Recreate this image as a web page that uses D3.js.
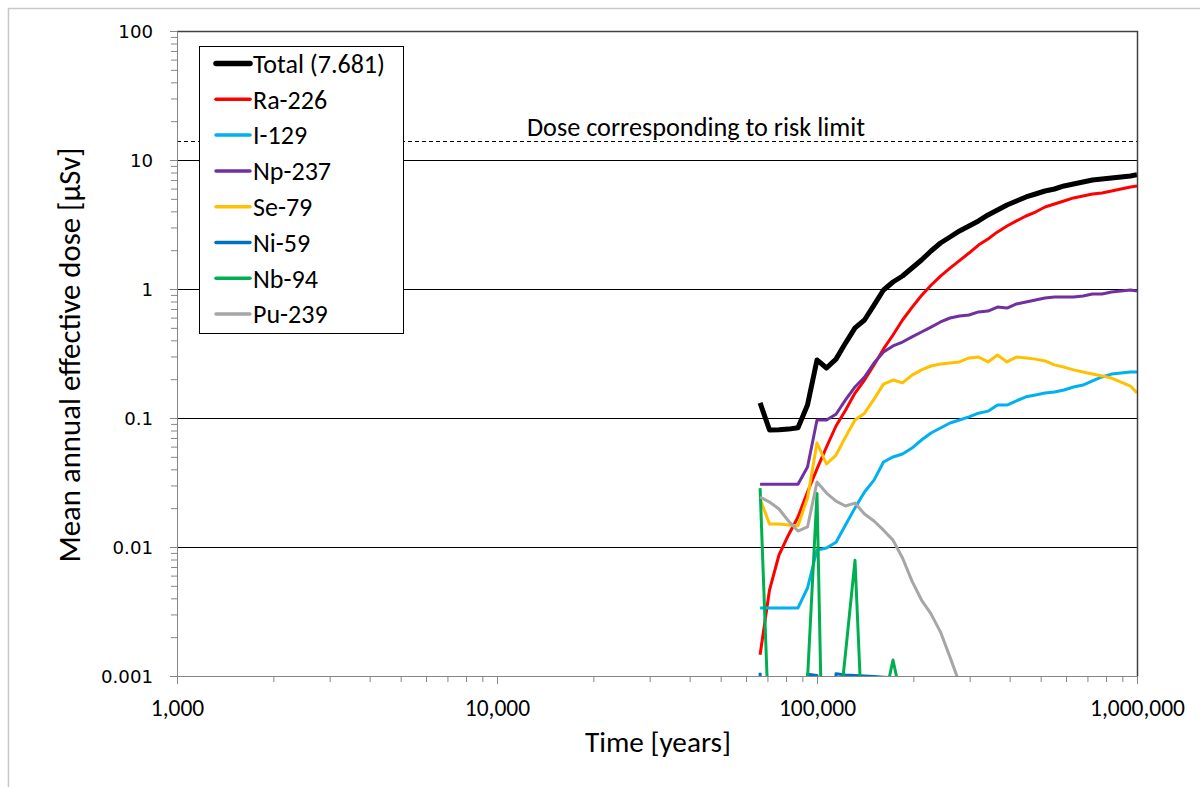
<!DOCTYPE html>
<html>
<head>
<meta charset="utf-8">
<script src="https://cdn.jsdelivr.net/npm/d3@7"></script>
<style>
  body { margin: 0; background: #fff; }
  svg { display: block; }
</style>
</head>
<body>
<svg id="chart" width="1200" height="787"></svg>
<script>
// ---------------- DATA ----------------
const times = [66400, 71050, 76070, 81450, 87210, 93400, 100000, 107080, 114660, 122770,
  131460, 140760, 150710, 161380, 172780, 185020, 198110, 212120, 227130, 243200,
  260400, 278820, 298540, 319660, 342270, 366480, 392410, 420170, 449890, 481720,
  515790, 552280, 591350, 633180, 677970, 725930, 777280, 832270, 891250, 954300, 1000000];

const seriesNames = ["Total (7.681)", "Ra-226", "I-129", "Np-237", "Se-79", "Ni-59", "Nb-94", "Pu-239"];

const total = [0.131, 0.0807, 0.081, 0.082, 0.084, 0.126, 0.282, 0.244, 0.286, 0.381,
  0.499, 0.575, 0.751, 0.982, 1.133, 1.261, 1.455, 1.679, 1.970, 2.273,
  2.53, 2.82, 3.08, 3.37, 3.75, 4.10, 4.48, 4.81, 5.17, 5.45,
  5.75, 5.96, 6.29, 6.51, 6.75, 7.00, 7.12, 7.25, 7.38, 7.52, 7.681];

const ra226 = [0.00146, 0.00464, 0.00867, 0.0124, 0.0171, 0.0267, 0.0403, 0.0596, 0.0867, 0.115,
  0.156, 0.197, 0.258, 0.343, 0.440, 0.575, 0.72, 0.89, 1.07, 1.26,
  1.45, 1.66, 1.90, 2.19, 2.44, 2.77, 3.08, 3.37, 3.68, 3.95,
  4.32, 4.56, 4.81, 5.08, 5.26, 5.45, 5.55, 5.75, 5.96, 6.18, 6.29];

const i129 = [0.00337, 0.00337, 0.00337, 0.00337, 0.00337, 0.00481, 0.00948, 0.00982, 0.0109, 0.0148,
  0.0201, 0.0267, 0.0330, 0.0456, 0.0499, 0.0526, 0.0585, 0.0675, 0.0765, 0.0837,
  0.0915, 0.0965, 0.102, 0.109, 0.113, 0.126, 0.126, 0.136, 0.146, 0.151,
  0.156, 0.159, 0.165, 0.174, 0.180, 0.194, 0.208, 0.219, 0.223, 0.227, 0.227];

const np237 = [0.0307, 0.0307, 0.0307, 0.0307, 0.0307, 0.0417, 0.0965, 0.0965, 0.107, 0.138,
  0.174, 0.208, 0.267, 0.325, 0.362, 0.388, 0.425, 0.464, 0.507, 0.555,
  0.596, 0.618, 0.629, 0.664, 0.675, 0.725, 0.712, 0.766, 0.793, 0.822,
  0.852, 0.867, 0.867, 0.867, 0.883, 0.915, 0.915, 0.948, 0.965, 0.982, 0.965];

const se79 = [0.0236, 0.0151, 0.0151, 0.0148, 0.0146, 0.0240, 0.064, 0.044, 0.0516, 0.0713,
  0.0965, 0.109, 0.140, 0.183, 0.197, 0.187, 0.215, 0.236, 0.253, 0.262,
  0.267, 0.272, 0.292, 0.297, 0.272, 0.308, 0.272, 0.297, 0.292, 0.286,
  0.277, 0.258, 0.248, 0.236, 0.227, 0.219, 0.212, 0.204, 0.190, 0.177, 0.156];

const ni59 = [0.00106, 1e-6, 1e-6, 1e-6, 1e-6, 0.00103, 0.00101, 1e-6, 0.00104, 0.00102,
  0.00101, 0.00100, 0.00099, 0.00098, 0.00097, 0.0009, null, null, null, null,
  null, null, null, null, null, null, null, null, null, null,
  null, null, null, null, null, null, null, null, null, null, null];

const nb94 = [0.0286, 0.0003, 1e-6, 1e-6, 1e-6, 0.00095, 0.026, 6e-6, 0.0003, 0.0015,
  0.0079, 0.000156, 1e-6, 0.0006, 0.00133, 0.0006, 1e-6, null, null, null,
  null, null, null, null, null, null, null, null, null, null,
  null, null, null, null, null, null, null, null, null, null, null];

const pu239 = [0.0244, 0.0223, 0.0197, 0.0159, 0.0133, 0.0143, 0.0319, 0.0262, 0.0227, 0.0208,
  0.0219, 0.0180, 0.0159, 0.0135, 0.0113, 0.00822, 0.00544, 0.00388, 0.00303, 0.00219,
  0.00140, 0.00088, 0.0002, null, null, null, null, null, null, null,
  null, null, null, null, null, null, null, null, null, null, null];

const riskLimitDose = 14;
const riskLimitLabel = "Dose corresponding to risk limit";

const xTickValues = [1000, 10000, 100000, 1000000];
const xTickLabels = ["1,000", "10,000", "100,000", "1,000,000"];
const yTickValues = [0.001, 0.01, 0.1, 1, 10, 100];
const yTickLabels = ["0.001", "0.01", "0.1", "1", "10", "100"];
const xTitle = "Time [years]";
const yTitle = "Mean annual effective dose [µSv]";

// ---------------- STYLE / LAYOUT ----------------
const allSeries = [total, ra226, i129, np237, se79, ni59, nb94, pu239];
const colors = ["#000000", "#FF0000", "#00B0F0", "#7030A0", "#FFC000", "#0070C0", "#00B050", "#A6A6A6"];
const widths = [5, 3, 3, 3, 3, 3, 3, 3];
const L = 177, R = 1137, T = 31, B = 676;
const textFont = "Carlito, Calibri, Lato, sans-serif";

const svg = d3.select("#chart");
const x = d3.scaleLog().domain([1000, 1e6]).range([L, R]);
const y = d3.scaleLog().domain([0.001, 100]).range([B, T]);

function fit(sel, target) {
  const w = sel.node().getComputedTextLength();
  const fs = parseFloat(sel.attr("font-size"));
  if (w > 0) sel.attr("font-size", (fs * target / w).toFixed(2));
  return parseFloat(sel.attr("font-size"));
}

// outer chart border
svg.append("rect").attr("x", 8.5).attr("y", 8.5).attr("width", 1400).attr("height", 1000)
  .attr("fill", "none").attr("stroke", "#C8C8C8").attr("stroke-width", 1.5);

// gridlines
svg.append("g").selectAll("line")
  .data(yTickValues.filter(v => v > 0.001 && v < 100))
  .join("line")
  .attr("x1", L).attr("x2", R)
  .attr("y1", d => Math.round(y(d)) + 0.5).attr("y2", d => Math.round(y(d)) + 0.5)
  .attr("stroke", "#000").attr("stroke-width", 1);

// risk limit line + label
svg.append("line").attr("x1", L).attr("x2", R)
  .attr("y1", Math.round(y(riskLimitDose)) + 0.5).attr("y2", Math.round(y(riskLimitDose)) + 0.5)
  .attr("stroke", "#000").attr("stroke-width", 1).attr("stroke-dasharray", "4,3");
const riskText = svg.append("text").attr("x", 696).attr("y", 136)
  .attr("text-anchor", "middle").attr("font-family", textFont).attr("font-size", 22)
  .attr("fill", "#000").text(riskLimitLabel);
fit(riskText, 338);

// series
svg.append("clipPath").attr("id", "plotClip").append("rect")
  .attr("x", L).attr("y", T).attr("width", R - L).attr("height", B - T);
const lineGen = d3.line()
  .defined(d => d != null)
  .x((d, j) => x(times[j]))
  .y(d => y(d));
const gSeries = svg.append("g").attr("clip-path", "url(#plotClip)");
allSeries.forEach((vals, i) => {
  gSeries.append("path")
    .attr("d", lineGen(vals))
    .attr("fill", "none")
    .attr("stroke", colors[i])
    .attr("stroke-width", widths[i])
    .attr("stroke-linejoin", "round")
    .attr("stroke-linecap", "butt");
});

// plot border (top and right)
svg.append("path")
  .attr("d", `M${L},${T + 0.5}H${R + 0.5}V${B}`)
  .attr("fill", "none").attr("stroke", "#404040").attr("stroke-width", 1.5);

// axes
const axisColor = "#868686";
const xMinor = [], yMinor = [];
[1000, 10000, 100000].forEach(d => { for (let m = 2; m <= 9; m++) xMinor.push(d * m); });
[0.001, 0.01, 0.1, 1, 10].forEach(d => { for (let m = 2; m <= 9; m++) yMinor.push(+(d * m).toPrecision(3)); });

const gxMinor = svg.append("g").attr("transform", `translate(0,${B})`)
  .call(d3.axisBottom(x).tickValues(xMinor).tickFormat("").tickSize(6).tickSizeOuter(0));
const gx = svg.append("g").attr("transform", `translate(0,${B})`)
  .call(d3.axisBottom(x).tickValues(xTickValues).tickFormat((d, i) => xTickLabels[i]).tickSize(8).tickSizeOuter(0));
const gyMinor = svg.append("g").attr("transform", `translate(${L},0)`)
  .call(d3.axisLeft(y).tickValues(yMinor).tickFormat("").tickSize(6).tickSizeOuter(0));
const gy = svg.append("g").attr("transform", `translate(${L},0)`)
  .call(d3.axisLeft(y).tickValues(yTickValues).tickFormat((d, i) => yTickLabels[i]).tickSize(7).tickPadding(17).tickSizeOuter(0));

[gxMinor, gx, gyMinor, gy].forEach(g => {
  g.select(".domain").attr("stroke", axisColor).attr("stroke-width", 1);
  g.selectAll(".tick line").attr("stroke", axisColor).attr("stroke-width", 1);
});

// x tick labels
gx.selectAll(".tick text")
  .attr("font-family", textFont).attr("font-size", 22).attr("fill", "#000")
  .attr("dy", null).attr("y", 40);
{
  const last = gx.selectAll(".tick text").filter((d, i) => i === xTickValues.length - 1);
  const fs = fit(last, 95);
  gx.selectAll(".tick text").attr("font-size", fs);
}
// y tick labels
gy.selectAll(".tick text")
  .attr("font-family", "'DejaVu Sans', Verdana, sans-serif").attr("font-size", 17).attr("fill", "#000")
  .attr("dy", "0.36em");
{
  const first = gy.selectAll(".tick text").filter((d, i) => i === 0);
  const fs = fit(first, 52);
  gy.selectAll(".tick text").attr("font-size", fs);
}

// axis titles
const xt = svg.append("text").attr("x", 658).attr("y", 752).attr("text-anchor", "middle")
  .attr("font-family", textFont).attr("font-size", 24).attr("fill", "#000").text(xTitle);
fit(xt, 146);
const yt = svg.append("text").attr("transform", "translate(80,355) rotate(-90)")
  .attr("text-anchor", "middle")
  .attr("font-family", textFont).attr("font-size", 24).attr("fill", "#000").text(yTitle);
fit(yt, 415);

// legend
const lg = svg.append("g");
lg.append("rect").attr("x", 199.5).attr("y", 46.5).attr("width", 204).attr("height", 287)
  .attr("fill", "#fff").attr("stroke", "#000").attr("stroke-width", 1);
const rowStep = 35.8, row0 = 63.5;
const items = lg.selectAll("g.item").data(seriesNames).join("g").attr("class", "item")
  .attr("transform", (d, i) => `translate(0,${row0 + i * rowStep})`);
items.append("line").attr("x1", 216).attr("x2", 250).attr("y1", 0).attr("y2", 0)
  .attr("stroke", (d, i) => colors[i]).attr("stroke-width", (d, i) => i === 0 ? 5.5 : 3.5)
  .attr("stroke-linecap", "round");
const ltexts = items.append("text").attr("x", 253).attr("y", 0).attr("dy", "0.36em")
  .attr("font-family", textFont).attr("font-size", 24).attr("fill", "#000").text(d => d);
{
  const fs = fit(ltexts.filter((d, i) => i === 0), 132);
  ltexts.attr("font-size", fs);
}
</script>
</body>
</html>
